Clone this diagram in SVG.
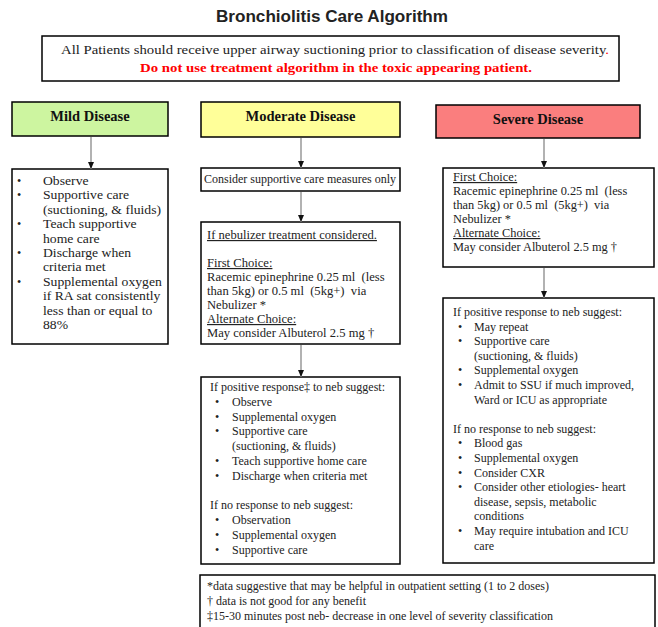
<svg xmlns="http://www.w3.org/2000/svg" width="658" height="627" viewBox="0 0 658 627">
<style>
.box{fill:#fff;stroke:#000;stroke-width:1.5}
.t{font-family:"Liberation Serif","Times New Roman",serif;font-size:12px;fill:#222}
.hd{font-family:"Liberation Serif","Times New Roman",serif;font-size:14.5px;font-weight:bold;fill:#111;text-anchor:middle}
.u{text-decoration:underline}
.conn line{stroke:#999;stroke-width:1.5}
</style>
<defs>
<marker id="ah" markerWidth="7" markerHeight="6" refX="7" refY="3" orient="auto" markerUnits="userSpaceOnUse">
<path d="M0,0 L7,3 L0,6 Z" fill="#111"/>
</marker>
</defs>
<rect width="658" height="627" fill="#fff"/>
<text x="332" y="22" text-anchor="middle" font-family="Liberation Sans, Arial, sans-serif" font-size="16" font-weight="bold" fill="#222" textLength="232" lengthAdjust="spacingAndGlyphs">Bronchiolitis Care Algorithm</text>

<g id="intro">
<rect class="box" x="42" y="36" width="577" height="45"/>
<text class="t" x="61" y="54" font-size="13" textLength="548" lengthAdjust="spacingAndGlyphs">All Patients should receive upper airway suctioning prior to classification of disease severity<tspan fill="#f00">.</tspan></text>
<text x="336" y="72" text-anchor="middle" font-family="Liberation Serif, Times New Roman, serif" font-size="13" font-weight="bold" fill="#f00" textLength="392" lengthAdjust="spacingAndGlyphs">Do not use treatment algorithm in the toxic appearing patient.</text>
</g>

<g id="mild">
<rect x="12" y="102" width="156" height="34" fill="#cdf5a0" stroke="#000" stroke-width="1.5"/>
<text class="hd" x="90" y="121">Mild Disease</text>
</g>
<g id="moderate">
<rect x="201" y="102" width="199" height="35" fill="#ffff99" stroke="#000" stroke-width="1.5"/>
<text class="hd" x="300.5" y="121">Moderate Disease</text>
</g>
<g id="severe">
<rect x="436" y="105" width="204" height="33" fill="#fa7e7e" stroke="#000" stroke-width="1.5"/>
<text class="hd" x="538" y="124">Severe Disease</text>
</g>

<g id="mild-care">
<rect class="box" x="12" y="169" width="156" height="175"/>
<g class="t">
<text x="17" y="185">•</text>
<text x="17" y="199.4">•</text>
<text x="17" y="228.2">•</text>
<text x="17" y="257">•</text>
<text x="17" y="285.8">•</text>
</g>
<g class="t" transform="translate(43,0) scale(1.14,1) translate(-43,0)">
<text x="43" y="185">Observe</text>
<text x="43" y="199.4">Supportive care</text>
<text x="43" y="213.8">(suctioning, &amp; fluids)</text>
<text x="43" y="228.2">Teach supportive</text>
<text x="43" y="242.6">home care</text>
<text x="43" y="257">Discharge when</text>
<text x="43" y="271.4">criteria met</text>
<text x="43" y="285.8">Supplemental oxygen</text>
<text x="43" y="300.2">if RA sat consistently</text>
<text x="43" y="314.6">less than or equal to</text>
<text x="43" y="329">88%</text>
</g>
</g>

<g id="moderate-supportive">
<rect class="box" x="201" y="168" width="199" height="23"/>
<text class="t" x="300" y="183" font-size="10" text-anchor="middle">Consider supportive care measures only</text>
</g>

<g id="moderate-neb">
<rect class="box" x="201" y="222" width="199" height="122"/>
<g class="t" transform="translate(207,0) scale(1.05,1) translate(-207,0)">
<text class="u" x="207" y="239">If nebulizer treatment considered.</text>
<text class="u" x="207" y="267">First Choice:</text>
<text x="207" y="281" xml:space="preserve">Racemic epinephrine 0.25 ml  (less</text>
<text x="207" y="295" xml:space="preserve">than 5kg) or 0.5 ml  (5kg+)  via</text>
<text x="207" y="309">Nebulizer *</text>
<text class="u" x="207" y="323">Alternate Choice:</text>
<text x="207" y="337">May consider Albuterol 2.5 mg †</text>
</g>
</g>

<g id="moderate-response">
<rect class="box" x="201" y="377" width="199" height="187"/>
<g class="t">
<text x="210" y="391">If positive response‡ to neb suggest:</text>
<text x="215" y="405.8">•</text><text x="232" y="405.8">Observe</text>
<text x="215" y="420.6">•</text><text x="232" y="420.6">Supplemental oxygen</text>
<text x="215" y="435.4">•</text><text x="232" y="435.4">Supportive care</text>
<text x="232" y="450.2">(suctioning, &amp; fluids)</text>
<text x="215" y="465">•</text><text x="232" y="465">Teach supportive home care</text>
<text x="215" y="479.8">•</text><text x="232" y="479.8">Discharge when criteria met</text>
<text x="210" y="509.4">If no response to neb suggest:</text>
<text x="215" y="524.2">•</text><text x="232" y="524.2">Observation</text>
<text x="215" y="539">•</text><text x="232" y="539">Supplemental oxygen</text>
<text x="215" y="553.8">•</text><text x="232" y="553.8">Supportive care</text>
</g>
</g>

<g id="severe-neb">
<rect class="box" x="443" y="168" width="211" height="99"/>
<g class="t" transform="translate(453,0) scale(1.03,1) translate(-453,0)">
<text class="u" x="453" y="181">First Choice:</text>
<text x="453" y="195" xml:space="preserve">Racemic epinephrine 0.25 ml  (less</text>
<text x="453" y="209" xml:space="preserve">than 5kg) or 0.5 ml  (5kg+)  via</text>
<text x="453" y="223">Nebulizer *</text>
<text class="u" x="453" y="237">Alternate Choice:</text>
<text x="453" y="251">May consider Albuterol 2.5 mg †</text>
</g>
</g>

<g id="severe-response">
<rect class="box" x="443" y="298" width="211" height="265"/>
<g class="t">
<text x="453" y="316">If positive response to neb suggest:</text>
<text x="458" y="330.6">•</text><text x="474" y="330.6">May repeat</text>
<text x="458" y="345.2">•</text><text x="474" y="345.2">Supportive care</text>
<text x="474" y="359.8">(suctioning, &amp; fluids)</text>
<text x="458" y="374.4">•</text><text x="474" y="374.4">Supplemental oxygen</text>
<text x="458" y="389">•</text><text x="474" y="389">Admit to SSU if much improved,</text>
<text x="474" y="403.6">Ward or ICU as appropriate</text>
<text x="453" y="432.8">If no response to neb suggest:</text>
<text x="458" y="447.4">•</text><text x="474" y="447.4">Blood gas</text>
<text x="458" y="462">•</text><text x="474" y="462">Supplemental oxygen</text>
<text x="458" y="476.6">•</text><text x="474" y="476.6">Consider CXR</text>
<text x="458" y="491.2">•</text><text x="474" y="491.2">Consider other etiologies- heart</text>
<text x="474" y="505.8">disease, sepsis, metabolic</text>
<text x="474" y="520.4">conditions</text>
<text x="458" y="535">•</text><text x="474" y="535">May require intubation and ICU</text>
<text x="474" y="549.6">care</text>
</g>
</g>

<g id="footnotes">
<rect class="box" x="200" y="575" width="455" height="70"/>
<g class="t" font-size="11.2">
<text x="207" y="590">*data suggestive that may be helpful in outpatient setting (1 to 2 doses)</text>
<text x="207" y="605">† data is not good for any benefit</text>
<text x="207" y="620">‡15-30 minutes post neb- decrease in one level of severity classification</text>
</g>
</g>

<g id="connectors" class="conn">
<line x1="91" y1="137" x2="91" y2="169" marker-end="url(#ah)"/>
<line x1="301" y1="138" x2="301" y2="168" marker-end="url(#ah)"/>
<line x1="301" y1="192" x2="301" y2="222" marker-end="url(#ah)"/>
<line x1="301" y1="345" x2="301" y2="377" marker-end="url(#ah)"/>
<line x1="544" y1="139" x2="544" y2="168" marker-end="url(#ah)"/>
<line x1="544" y1="268" x2="544" y2="298" marker-end="url(#ah)"/>
</g>
</svg>
